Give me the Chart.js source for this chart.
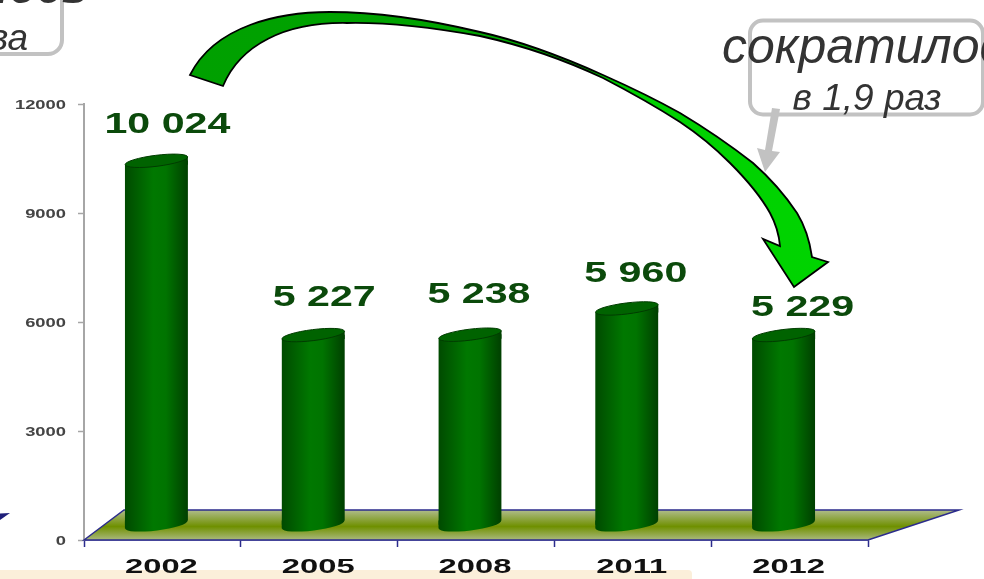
<!DOCTYPE html>
<html>
<head>
<meta charset="utf-8">
<style>
  html, body { margin: 0; padding: 0; background: #fff; overflow: hidden; }
  canvas { display: block; }
</style>
<script src="https://cdn.jsdelivr.net/npm/chart.js@4"></script>
</head>
<body>
<canvas id="chart" width="984" height="579"></canvas>
<script>
const categories = ["2002", "2005", "2008", "2011", "2012"];
const values = [10024, 5227, 5238, 5960, 5229];
const yTicks = [0, 3000, 6000, 9000, 12000];

// layout of the fake 3D look, not data
const shiftX = -6;
const shiftY = -15;
const tilt = 4;
const labelNudge = [[11, -36], [11, -37], [9, -40], [9, -34], [19, -27]];
const fontName = '"Liberation Sans", Arial, sans-serif';

const stretched = (ctx, text, x, y, font, sx, color, align) => {
    ctx.save();
    ctx.font = font;
    ctx.fillStyle = color;
    ctx.textAlign = align;
    ctx.textBaseline = "middle";
    ctx.translate(x, y);
    ctx.scale(sx, 1);
    ctx.fillText(text, 0, 0);
    ctx.restore();
};

const roundBox = (ctx, x, y, w, h, r) => {
    ctx.beginPath();
    ctx.roundRect(x, y, w, h, r);
    ctx.lineWidth = 4;
    ctx.strokeStyle = "#c2c2c2";
    ctx.stroke();
};

const bodyGradient = (ctx, left, right) => {
    const g = ctx.createLinearGradient(left, 0, right, 0);
    g.addColorStop(0, "#004a00");
    g.addColorStop(0.45, "#007800");
    g.addColorStop(0.65, "#007400");
    g.addColorStop(1, "#003f00");
    return g;
};

const floorPlugin = {
    id: "floor",
    beforeDatasetsDraw(chart) {
        const { ctx, scales: { x, y } } = chart;
        const y0 = y.getPixelForValue(0);
        const g = ctx.createLinearGradient(0, y0 - 30, 0, y0);
        g.addColorStop(0, "#b0bc8c");
        g.addColorStop(0.55, "#6f9000");
        g.addColorStop(1, "#aab97e");
        ctx.save();
        ctx.beginPath();
        ctx.moveTo(x.left, y0);
        ctx.lineTo(x.left + 40, y0 - 30);
        ctx.lineTo(x.right + 91, y0 - 30);
        ctx.lineTo(x.right, y0);
        ctx.closePath();
        ctx.fillStyle = g;
        ctx.fill();
        ctx.lineWidth = 1.5;
        ctx.strokeStyle = "#2b2b8c";
        ctx.stroke();
        ctx.restore();
    }
};

const cylinderPlugin = {
    id: "cylinder",
    beforeDatasetDraw(chart, args) {
        const { ctx } = chart;
        const bars = chart.getDatasetMeta(args.index).data;
        ctx.save();
        ctx.translate(shiftX, shiftY);
        // round bottoms go under the bars
        bars.forEach((bar) => {
            const left = bar.x - bar.width / 2;
            const right = bar.x + bar.width / 2;
            ctx.beginPath();
            ctx.ellipse(bar.x, bar.base, bar.width / 2, 6, -Math.atan(tilt / 32), 0, Math.PI * 2);
            ctx.moveTo(left, bar.base - 4);
            ctx.lineTo(right, bar.base - 4);
            ctx.lineTo(right, bar.base - tilt);
            ctx.lineTo(left, bar.base + tilt);
            ctx.closePath();
            ctx.fillStyle = bodyGradient(ctx, left, right);
            ctx.fill();
        });
        // slanted ends for the library's own rectangles
        ctx.beginPath();
        bars.forEach((bar) => {
            const left = bar.x - bar.width / 2;
            const right = bar.x + bar.width / 2;
            ctx.moveTo(left, bar.y + tilt);
            ctx.lineTo(right, bar.y - tilt);
            ctx.lineTo(right, bar.base - tilt);
            ctx.lineTo(left, bar.base + tilt);
            ctx.closePath();
        });
        ctx.clip();
    },
    afterDatasetDraw(chart, args) {
        const { ctx } = chart;
        const bars = chart.getDatasetMeta(args.index).data;
        ctx.restore();
        ctx.save();
        ctx.translate(shiftX, shiftY);
        bars.forEach((bar) => {
            const left = bar.x - bar.width / 2;
            const right = bar.x + bar.width / 2;
            ctx.beginPath();
            ctx.moveTo(left, bar.y + tilt);
            ctx.lineTo(right, bar.y - tilt);
            ctx.lineTo(right, bar.y + 4);
            ctx.lineTo(left, bar.y + 4);
            ctx.closePath();
            ctx.fillStyle = bodyGradient(ctx, left, right);
            ctx.fill();
            ctx.beginPath();
            ctx.ellipse(bar.x, bar.y, bar.width / 2, 5.5, -Math.atan(tilt / 32), 0, Math.PI * 2);
            ctx.fillStyle = "#006300";
            ctx.fill();
            ctx.lineWidth = 1;
            ctx.strokeStyle = "#003c00";
            ctx.stroke();
        });
        ctx.restore();
    }
};

const labelPlugin = {
    id: "labels",
    beforeDraw(chart) {
        // beige strip under the chart
        const { ctx } = chart;
        ctx.save();
        ctx.fillStyle = "#fbefda";
        ctx.beginPath();
        ctx.roundRect(-10, 570, 702, 20, 4);
        ctx.fill();
        ctx.restore();
    },
    afterDraw(chart) {
        const { ctx, scales: { x, y } } = chart;
        yTicks.forEach((t) => {
            stretched(ctx, String(t), 66, y.getPixelForValue(t) + 1.5, "bold 13.5px " + fontName, 1.36, "#444", "right");
        });
        categories.forEach((c, i) => {
            stretched(ctx, c, x.getPixelForValue(i) - 1, 567.5, "bold 21px " + fontName, 1.56, "#111", "center");
        });
        const bars = chart.getDatasetMeta(0).data;
        values.forEach((v, i) => {
            const txt = String(v).replace(/\B(?=(\d{3})+$)/g, " ");
            const [nx, ny] = labelNudge[i];
            stretched(ctx, txt, bars[i].x + shiftX + nx, bars[i].y + shiftY + ny, "bold 29px " + fontName, 1.42, "#0b4a0b", "center");
        });
    }
};

const notesPlugin = {
    id: "notes",
    afterDraw(chart) {
        const { ctx } = chart;
        ctx.save();

        // curved green arrow
        const g = ctx.createLinearGradient(190, 0, 830, 0);
        g.addColorStop(0, "#00a000");
        g.addColorStop(0.45, "#00a400");
        g.addColorStop(0.7, "#00d000");
        g.addColorStop(1, "#00d400");
        ctx.beginPath();
        ctx.moveTo(190, 75);
        ctx.bezierCurveTo(215, 25, 280, 12, 330, 12);
        ctx.bezierCurveTo(380, 12, 430, 20, 480, 32);
        ctx.bezierCurveTo(525, 42, 565, 58, 603, 75);
        ctx.bezierCurveTo(630, 87, 655, 99, 680, 113);
        ctx.bezierCurveTo(705, 128, 730, 145, 753, 163);
        ctx.bezierCurveTo(770, 178, 785, 195, 797, 213);
        ctx.bezierCurveTo(805, 226, 810, 243, 812, 257);
        ctx.lineTo(828, 262);
        ctx.lineTo(794, 287);
        ctx.lineTo(763, 239);
        ctx.lineTo(780, 246);
        ctx.bezierCurveTo(779, 235, 776, 224, 770, 213);
        ctx.bezierCurveTo(760, 195, 745, 178, 730, 163);
        ctx.bezierCurveTo(715, 148, 698, 134, 680, 122);
        ctx.bezierCurveTo(655, 106, 630, 92, 603, 78);
        ctx.bezierCurveTo(565, 60, 525, 46, 480, 36);
        ctx.bezierCurveTo(435, 28, 390, 22, 347, 23);
        ctx.bezierCurveTo(285, 22, 240, 45, 223, 86);
        ctx.closePath();
        ctx.fillStyle = g;
        ctx.fill();
        ctx.lineWidth = 1.8;
        ctx.lineJoin = "miter";
        ctx.strokeStyle = "#000";
        ctx.stroke();

        // callouts
        roundBox(ctx, 750, 20.5, 233, 94, 13);
        roundBox(ctx, -100, -60, 162, 114, 14);

        ctx.fillStyle = "#c2c2c2";
        ctx.beginPath();
        ctx.moveTo(772, 108);
        ctx.lineTo(780, 109);
        ctx.lineTo(772, 151);
        ctx.lineTo(780, 152);
        ctx.lineTo(765, 172);
        ctx.lineTo(757, 148);
        ctx.lineTo(765, 150);
        ctx.closePath();
        ctx.fill();

        // stray arrow tip at the left edge
        ctx.fillStyle = "#1f1f7a";
        ctx.beginPath();
        ctx.moveTo(0, 513.5);
        ctx.lineTo(10, 513);
        ctx.lineTo(0, 520);
        ctx.closePath();
        ctx.fill();

        ctx.fillStyle = "#333";
        ctx.textBaseline = "alphabetic";
        ctx.font = "italic 50px " + fontName;
        ctx.textAlign = "left";
        ctx.fillText("сократилось", 722, 63);
        ctx.textAlign = "right";
        ctx.fillText("лось", 88, 3);
        ctx.font = "italic 37px " + fontName;
        ctx.textAlign = "center";
        ctx.fillText("в 1,9 раз", 867, 110);
        ctx.textAlign = "right";
        ctx.fillText("ва", 28, 50);
        ctx.restore();
    }
};

new Chart(document.getElementById("chart"), {
    type: "bar",
    data: {
        labels: categories,
        datasets: [{
            data: values,
            barThickness: 63,
            // one gradient per bar, so it has to be scriptable
            backgroundColor: (c) => {
                const mid = c.chart.scales.x?.getPixelForValue(c.dataIndex);
                if (c.type !== "data" || !Number.isFinite(mid)) return "#006600";
                return bodyGradient(c.chart.ctx, mid - 31.5, mid + 31.5);
            },
            clip: false
        }]
    },
    options: {
        responsive: false,
        animation: false,
        layout: { padding: { left: 78, right: 116, top: 104, bottom: 32 } },
        plugins: { legend: { display: false }, tooltip: { enabled: false } },
        scales: {
            x: {
                ticks: { display: false },
                border: { color: "#2b2b8c", width: 1.5 },
                grid: { color: "#2b2b8c", drawOnChartArea: false, tickLength: 7, tickWidth: 1.5 }
            },
            y: {
                min: 0,
                max: 12000,
                ticks: { display: false, stepSize: 3000 },
                border: { color: "#a6a6a6", width: 2 },
                grid: { color: "#a6a6a6", drawOnChartArea: false, tickLength: 6, tickWidth: 1.5 }
            }
        }
    },
    plugins: [floorPlugin, cylinderPlugin, labelPlugin, notesPlugin]
});
</script>
</body>
</html>
